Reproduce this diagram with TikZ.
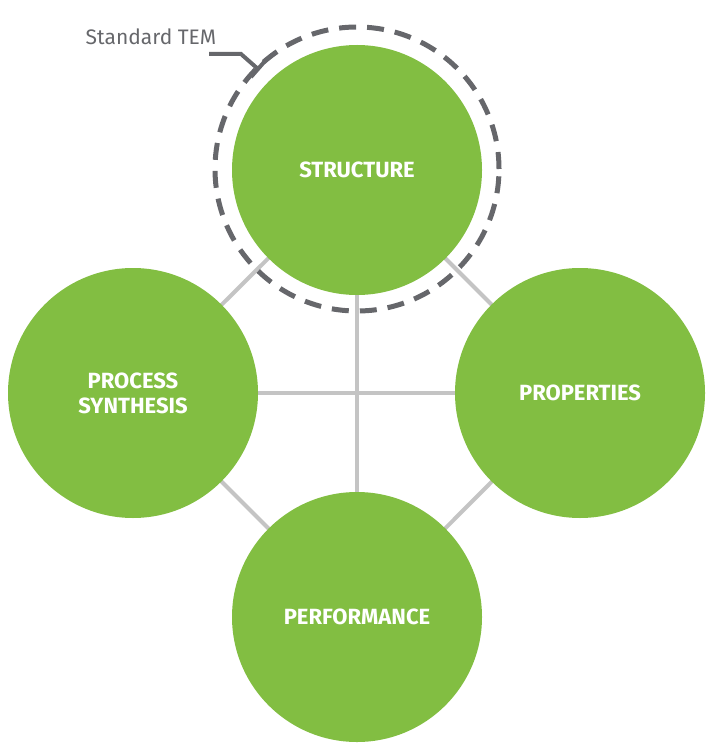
\documentclass[tikz,border=0pt]{standalone}
\usepackage{fontspec}
\setmainfont{Fira Sans}
\begin{document}
\begin{tikzpicture}[x=1pt,y=-1pt,
  ball/.style={circle,fill=green1,minimum size=250pt,inner sep=0pt,text=white,font=\fontsize{22}{25}\selectfont\bfseries,align=center},
  link/.style={draw=linkgray,line width=4pt}]
\definecolor{green1}{HTML}{82BE42}
\definecolor{linkgray}{HTML}{C4C4C4}
\definecolor{dgray}{HTML}{66676B}
\useasboundingbox (0,0) rectangle (720,751);
\coordinate (cs) at (357,170);
\coordinate (cp) at (133,393);
\coordinate (cr) at (580,393);
\coordinate (cf) at (357,617);
\draw[link] (cs) -- (cp); \draw[link] (cs) -- (cr);
\draw[link] (cp) -- (cf); \draw[link] (cr) -- (cf);
\draw[link] (cp) -- (cr); \draw[link] (cs) -- (cf);
\node[ball] (s) at (cs) {STRUCTURE};
\node[ball] (p) at (cp) {PROCESS\\SYNTHESIS};
\node[ball] (r) at (cr) {PROPERTIES};
\node[ball] (f) at (cf) {PERFORMANCE};
\node[circle,draw=dgray,line width=5pt,dash pattern=on 17pt off 11pt,minimum size=284pt,inner sep=0pt] (d) at (357,169) {};
\node[text=dgray,font=\fontsize{21}{24}\selectfont] (lab) at (151,37) {Standard TEM};
\coordinate (l1) at (209,54);
\coordinate (l2) at (241,54);
\coordinate (l3) at (258,69);
\draw[dgray,line width=4pt] (l1) -- (l2) -- (l3);
\draw[dgray,line width=4pt] (251,77) -- (265,61);
\end{tikzpicture}
\end{document}
